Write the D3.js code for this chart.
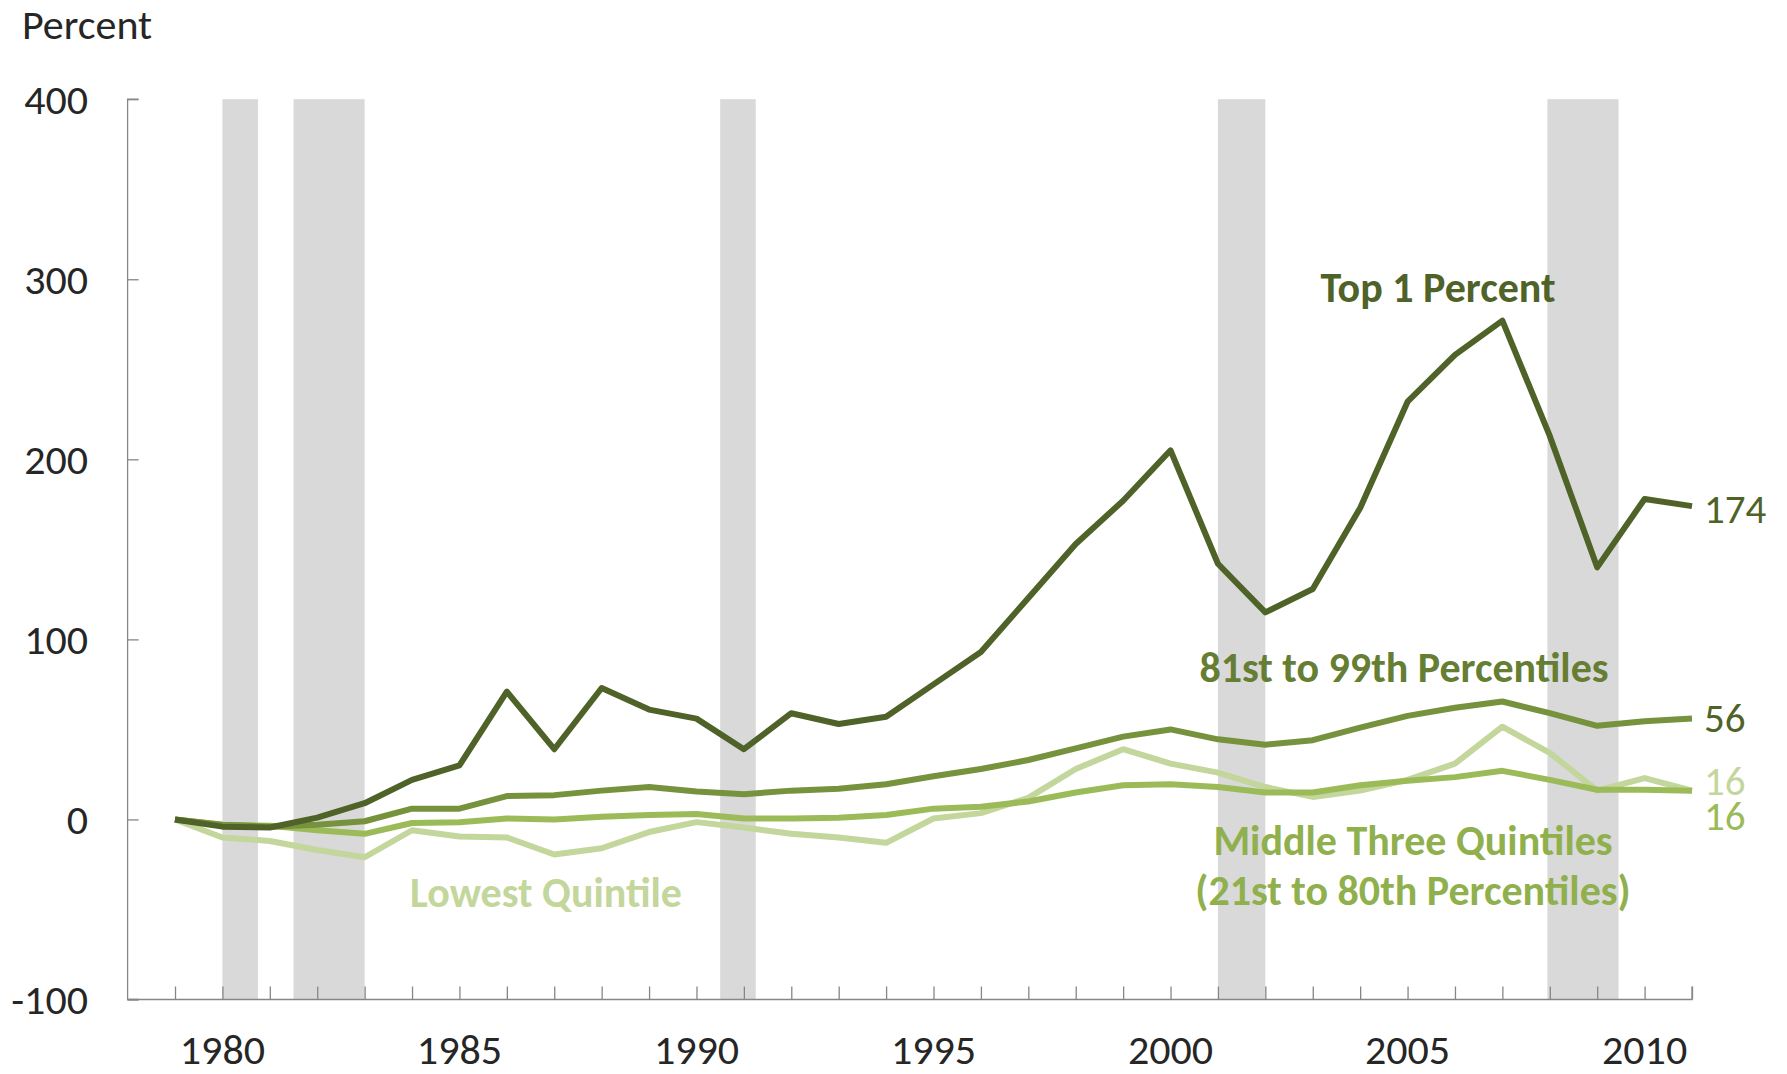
<html>
<head>
<script src="https://d3js.org/d3.v7.min.js"></script>
<style>
  body { margin: 0; background: #fff; }
  text { font-family: Carlito, Calibri, Lato, sans-serif; }
</style>
</head>
<body>
<div id="chart"><svg width="1787" height="1074"></svg></div>
<script>
// years on the category axis
var years = d3.range(1979, 2012)

// cumulative growth in after-tax income since 1979, percent
var top1 = [0, -4, -4.5, 1, 9, 22, 30, 71, 39, 73, 61, 56, 39, 59, 53, 57, 75, 93, 123, 153, 177, 205, 142, 115, 128, 173, 232, 258, 277, 213, 140, 178, 174]
var p81to99 = [0, -3, -4, -3, -1, 6, 6, 13, 13.5, 16, 18, 15.5, 14, 16, 17, 19.5, 24, 28, 33, 39.5, 46, 50, 44.5, 41.5, 44, 51, 57.5, 62, 65.5, 59, 52, 54.5, 56]
var middle3 = [0, -3, -3.5, -6, -8, -2, -1.5, 0.5, 0, 1.5, 2.5, 3, 0.5, 0.5, 1, 2.5, 6, 7, 10, 15, 19, 19.5, 18, 15, 15, 19, 21.5, 23.5, 27, 22, 16.5, 16.5, 16]
var lowest = [0, -10, -12, -17, -21, -6, -9.5, -10, -19.5, -16, -7, -1.5, -4.5, -8, -10, -13, 0.5, 3.5, 12, 28, 39, 31, 26, 18, 12.5, 16, 22, 31, 51.5, 37, 16, 23, 16]

// recessions (start, end in fractional years)
var recessions = [[1980, 1980.75], [1981.5, 1983], [1990.5, 1991.25], [2001, 2002], [2007.95, 2009.45]]

var yTicks = [-100, 0, 100, 200, 300, 400]
var xLabels = [1980, 1985, 1990, 1995, 2000, 2005, 2010]

var svg = d3.select("#chart svg")

var x = d3.scaleLinear()
    .domain([1978, 2011])
    .range([127.6, 1692])
var y = d3.scaleLinear()
    .domain([-100, 400])
    .range([999.5, 99.2])

// gray recession bars
svg.append("g")
    .selectAll("rect")
    .data(recessions)
    .enter()
    .append("rect")
    .attr("x", function(d) { return x(d[0]) })
    .attr("width", function(d) { return x(d[1]) - x(d[0]) })
    .attr("y", y(400))
    .attr("height", y(-100) - y(400))
    .style("fill", "#d9d9d9")

// y axis, ticks point inward
var yAxis = d3.axisRight(y).tickValues(yTicks).tickSize(11).tickFormat("")
var gy = svg.append("g")
    .attr("transform", "translate(" + x(1978) + ",0)")
    .call(yAxis)
gy.select(".domain").attr("d", "M11," + y(400) + "H0V" + y(-100) + "H11")
gy.selectAll("line, path").attr("stroke", "#868686").attr("stroke-width", 1.3)

svg.append("g")
    .selectAll("text")
    .data(yTicks)
    .enter()
    .append("text")
    .attr("x", 88)
    .attr("y", function(d) { return y(d) })
    .attr("dy", "0.35em")
    .attr("text-anchor", "end")
    .style("font-size", "42px")
    .style("fill", "#262626")
    .text(function(d) { return d })

// x axis with a tick every year, pointing up
var xAxis = d3.axisTop(x).tickValues(years).tickSize(13).tickFormat("")
var gx = svg.append("g")
    .attr("transform", "translate(0," + y(-100) + ")")
    .call(xAxis)
gx.select(".domain").attr("d", "M" + x(1978) + ",0H" + x(2011) + "V-13")
gx.selectAll("line, path").attr("stroke", "#868686").attr("stroke-width", 1.3)

svg.append("g")
    .selectAll("text")
    .data(xLabels)
    .enter()
    .append("text")
    .attr("x", function(d) { return x(d) })
    .attr("y", 1049)
    .attr("dy", "0.35em")
    .attr("text-anchor", "middle")
    .style("font-size", "42px")
    .style("fill", "#262626")
    .text(function(d) { return d })

svg.append("text")
    .attr("x", 22)
    .attr("y", 24)
    .attr("dy", "0.35em")
    .style("font-size", "42px")
    .style("fill", "#262626")
    .text("Percent")

// series lines
var series = [
    { name: "lowest", values: lowest, color: "#c3d69b" },
    { name: "middle", values: middle3, color: "#9bbb59" },
    { name: "p81", values: p81to99, color: "#76923c" },
    { name: "top1", values: top1, color: "#4f6228" }
]

var line = d3.line()
    .x(function(d, i) { return x(years[i]) })
    .y(function(d) { return y(d) })

svg.append("g")
    .selectAll("path")
    .data(series)
    .enter()
    .append("path")
    .attr("d", function(d) { return line(d.values) })
    .style("fill", "none")
    .style("stroke", function(d) { return d.color })
    .style("stroke-width", 6)
    .style("stroke-linejoin", "round")

// end-of-line values
var endLabels = [
    { text: top1[32], yy: 509, color: "#4f6228" },
    { text: p81to99[32], yy: 718, color: "#4f6228" },
    { text: lowest[32], yy: 781, color: "#c3d69b" },
    { text: middle3[32], yy: 816, color: "#9bbb59" }
]
svg.append("g")
    .selectAll("text")
    .data(endLabels)
    .enter()
    .append("text")
    .attr("x", 1704)
    .attr("y", function(d) { return d.yy })
    .attr("dy", "0.35em")
    .style("font-size", "41px")
    .style("fill", function(d) { return d.color })
    .text(function(d) { return d.text })

// series names
var names = [
    { text: "Top 1 Percent", cx: 1438, cy: 287, color: "#4f6228" },
    { text: "81st to 99th Percentiles", cx: 1404, cy: 667, color: "#657e33" },
    { text: "Middle Three Quintiles", cx: 1413, cy: 840, color: "#8fb04d" },
    { text: "(21st to 80th Percentiles)", cx: 1413, cy: 890, color: "#8fb04d" },
    { text: "Lowest Quintile", cx: 546, cy: 892, color: "#c3d69b" }
]
svg.append("g")
    .selectAll("text")
    .data(names)
    .enter()
    .append("text")
    .attr("x", function(d) { return d.cx })
    .attr("y", function(d) { return d.cy })
    .attr("dy", "0.35em")
    .attr("text-anchor", "middle")
    .style("font-size", "42px")
    .style("font-weight", "bold")
    .style("fill", function(d) { return d.color })
    .text(function(d) { return d.text })
</script>
</body>
</html>
